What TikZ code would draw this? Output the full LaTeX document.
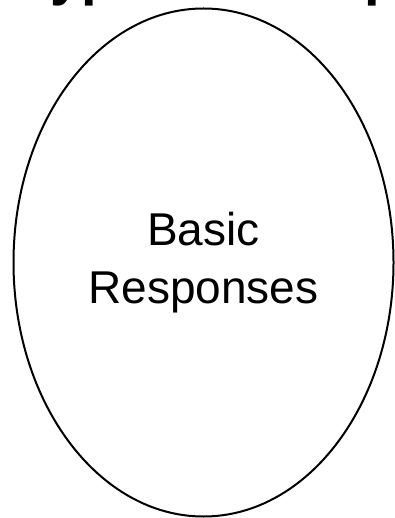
\documentclass[tikz,border=0pt]{standalone}
\usepackage{fontspec}
\setmainfont{Liberation Sans}
\usetikzlibrary{shapes.geometric}
\begin{document}
\begin{tikzpicture}[x=1pt,y=-1pt,line cap=round,line join=round]
	\tikzset{oval/.style={ellipse,draw,line width=2pt,inner sep=0pt,minimum width=380pt,minimum height=508pt,align=center,font=\fontsize{46}{58}\selectfont}}
	\useasboundingbox (0,0) rectangle (395,518);
	\node[anchor=base west,inner sep=0pt,font=\fontsize{56}{60}\selectfont\bfseries] (title) at (20,-5) {Types of Responses};
	\node[oval] (basic) at (203.5,262.5) {Basic\\Responses};
\end{tikzpicture}
\end{document}
